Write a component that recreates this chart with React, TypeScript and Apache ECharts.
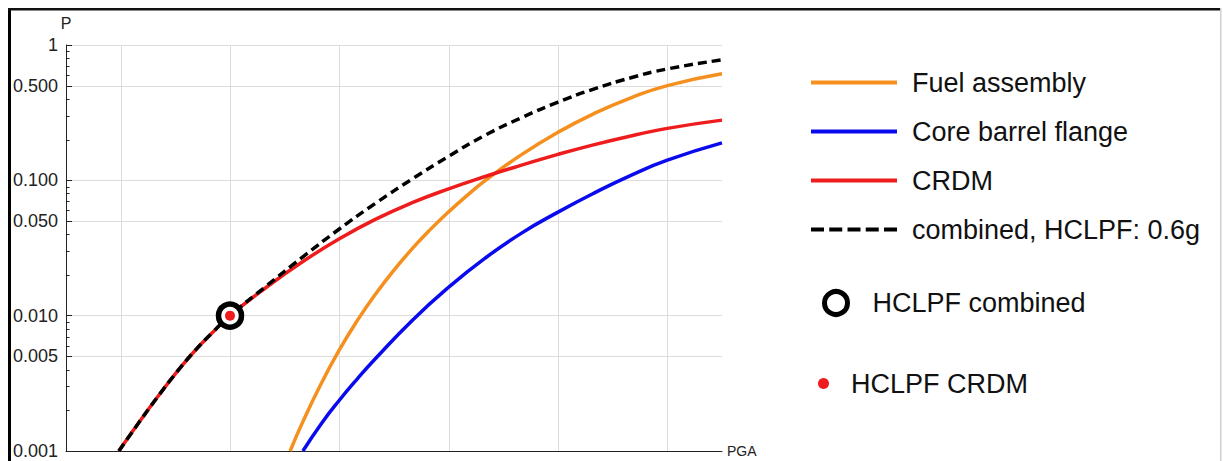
import React, { useEffect, useRef } from "react";
import * as echarts from "echarts";

// ---- data ----
const X_MIN = 0.15;
const X_MAX = 1.95;
const Y_MIN = 0.001;
const Y_MAX = 1;

const fuelPGA = [0.765, 0.8, 0.85, 0.9, 0.95, 1.0, 1.05, 1.1, 1.15, 1.2, 1.25, 1.3, 1.4, 1.5, 1.6, 1.7, 1.8, 1.95];
const fuelP = [0.001, 0.001648, 0.003141, 0.005585, 0.009268, 0.01452, 0.02173, 0.03126, 0.0434, 0.05854, 0.07716, 0.09943, 0.1549, 0.2265, 0.3126, 0.4074, 0.5012, 0.6124];

const corePGA = [0.8, 0.85, 0.9, 0.95, 1.0, 1.1, 1.2, 1.3, 1.4, 1.5, 1.6, 1.7, 1.8, 1.95];
const coreP = [0.001, 0.001585, 0.002371, 0.003428, 0.004842, 0.009226, 0.01622, 0.02661, 0.04074, 0.05821, 0.08072, 0.1089, 0.1409, 0.189];

const crdmPGA = [0.295, 0.35, 0.4, 0.45, 0.5, 0.55, 0.6, 0.7, 0.8, 0.9, 1.0, 1.1, 1.2, 1.3, 1.4, 1.5, 1.6, 1.7, 1.8, 1.95];
const crdmP = [0.001, 0.001622, 0.002483, 0.003715, 0.00537, 0.007413, 0.01, 0.01622, 0.02512, 0.03698, 0.05164, 0.06839, 0.0865, 0.1067, 0.1294, 0.1556, 0.1837, 0.2128, 0.2421, 0.2786];

const combPGA = [0.295, 0.35, 0.4, 0.45, 0.5, 0.55, 0.6, 0.7, 0.8, 0.9, 1.0, 1.1, 1.2, 1.3, 1.4, 1.5, 1.6, 1.7, 1.8, 1.95];
const combP = [0.001, 0.001622, 0.002483, 0.003715, 0.00537, 0.007413, 0.01, 0.0166, 0.0272, 0.0437, 0.0679, 0.1023, 0.1507, 0.2153, 0.2904, 0.3784, 0.4742, 0.5728, 0.6653, 0.7762];

const hclpfCombined = [0.6, 0.01];
const hclpfCrdm = [0.6, 0.01];

const seriesNames = ["Fuel assembly", "Core barrel flange", "CRDM", "combined, HCLPF: 0.6g", "HCLPF combined", "HCLPF CRDM"];

const xGridValues = [0.3, 0.6, 0.9, 1.2, 1.5, 1.8];
const yMidValues = [0.5, 0.05, 0.005];
const yMidLabels = ["0.500", "0.050", "0.005"];
const yMinorValues = [0.002, 0.003, 0.004, 0.006, 0.007, 0.008, 0.009, 0.02, 0.03, 0.04, 0.06, 0.07, 0.08, 0.09, 0.2, 0.3, 0.4, 0.6, 0.7, 0.8, 0.9];

const FONT = "'Liberation Sans', Arial, Helvetica, sans-serif";
const GRID_COLOR = "#dcdcdc";
const AXIS_COLOR = "#222";
const C_FUEL = "#f58f1e";
const C_CORE = "#0a0aee";
const C_CRDM = "#ee1c1c";

const DASH_ICON =
  "path://M0,0h13v4h-13zM18.25,0h13v4h-13zM36.5,0h13v4h-13zM54.75,0h13v4h-13zM73,0h13v4h-13z";

const zip = (xs: number[], ys: number[]) => xs.map((x, i) => [x, ys[i]]);
const crisp = (v: number) => Math.round(v) + 0.5;

export default function App() {
  const ref = useRef<HTMLDivElement>(null);

  useEffect(() => {
    document.body.style.margin = "0";
    document.body.style.overflow = "hidden";
    if (!ref.current) return;
    const chart = echarts.init(ref.current, undefined, { renderer: "svg" });

    const lineSeries = (name: string, xs: number[], ys: number[], color: string, extra: any = {}) => ({
      type: "line",
      name,
      data: zip(xs, ys),
      smooth: 0.5,
      symbol: "none",
      showSymbol: false,
      lineStyle: { color, width: 3.5, ...extra },
      itemStyle: { color },
    });

    const option: any = {
      animation: false,
      backgroundColor: "#fff",
      textStyle: { fontFamily: FONT },
      grid: { left: 66, right: 501, top: 45, bottom: 10, containLabel: false },
      xAxis: {
        type: "value",
        min: X_MIN,
        max: X_MAX,
        name: "PGA",
        nameLocation: "end",
        nameGap: 5,
        nameTextStyle: { fontSize: 14, color: AXIS_COLOR, verticalAlign: "middle", fontFamily: FONT },
        axisLine: { show: true, onZero: false, lineStyle: { color: AXIS_COLOR, width: 1 } },
        axisTick: { show: false },
        axisLabel: { show: false },
        splitLine: { show: false },
      },
      yAxis: {
        type: "log",
        logBase: 10,
        min: Y_MIN,
        max: Y_MAX,
        name: "P",
        nameLocation: "end",
        nameGap: 14,
        nameTextStyle: { fontSize: 16, color: AXIS_COLOR, align: "center", fontFamily: FONT },
        axisLine: { show: true, lineStyle: { color: AXIS_COLOR, width: 1 } },
        axisTick: { show: true, inside: true, length: 6, lineStyle: { color: AXIS_COLOR } },
        axisLabel: {
          fontSize: 18,
          color: AXIS_COLOR,
          margin: 8,
          fontFamily: FONT,
          formatter: (v: number) => (v >= 0.999 ? "1" : v.toFixed(3)),
        },
        splitLine: { show: true, lineStyle: { color: GRID_COLOR, width: 1 } },
      },
      legend: [
        {
          orient: "vertical",
          left: 811,
          top: 69,
          padding: 0,
          itemWidth: 86,
          itemHeight: 4,
          itemGap: 22,
          selectedMode: false,
          textStyle: { fontSize: 27, color: "#111", fontFamily: FONT, padding: [0, 0, 0, 10] },
          data: [
            { name: seriesNames[0], icon: "rect" },
            { name: seriesNames[1], icon: "rect" },
            { name: seriesNames[2], icon: "rect" },
            { name: seriesNames[3], icon: DASH_ICON },
          ],
        },
        {
          orient: "vertical",
          left: 822,
          top: 289,
          padding: 0,
          itemWidth: 23,
          itemHeight: 23,
          selectedMode: false,
          itemStyle: { color: "#fff", borderColor: "#000", borderWidth: 5 },
          textStyle: { fontSize: 27, color: "#111", fontFamily: FONT, padding: [0, 0, 0, 20] },
          data: [{ name: seriesNames[4], icon: "circle" }],
        },
        {
          orient: "vertical",
          left: 818,
          top: 370,
          padding: 0,
          itemWidth: 11,
          itemHeight: 11,
          selectedMode: false,
          itemStyle: { borderWidth: 0 },
          textStyle: { fontSize: 27, color: "#111", fontFamily: FONT, padding: [0, 0, 0, 17] },
          data: [{ name: seriesNames[5], icon: "circle" }],
        },
      ],
      graphic: [
        { type: "rect", silent: true, shape: { x: 8, y: 8, width: 3, height: 453 }, style: { fill: "#000" } },
        { type: "rect", silent: true, shape: { x: 8, y: 8, width: 1213, height: 2.5 }, style: { fill: "#111" } },
        { type: "rect", silent: true, shape: { x: 1220, y: 8, width: 1.5, height: 453 }, style: { fill: "#cfcfcf" } },
      ],
      series: [
        {
          type: "custom",
          name: "xgrid",
          silent: true,
          data: xGridValues.map((x) => [x, Y_MIN]),
          renderItem: (params: any, api: any) => {
            const x = api.value(0);
            const a = api.coord([x, Y_MIN]);
            const b = api.coord([x, Y_MAX]);
            return {
              type: "line",
              shape: { x1: crisp(a[0]), y1: a[1], x2: crisp(b[0]), y2: b[1] },
              style: { stroke: GRID_COLOR, lineWidth: 1 },
            };
          },
        },
        {
          type: "custom",
          name: "ymid",
          silent: true,
          data: yMidValues.map((v) => [X_MIN, v]),
          renderItem: (params: any, api: any) => {
            const v = api.value(1);
            const a = api.coord([X_MIN, v]);
            const b = api.coord([X_MAX, v]);
            const y = crisp(a[1]);
            return {
              type: "group",
              children: [
                { type: "line", shape: { x1: a[0], y1: y, x2: b[0], y2: y }, style: { stroke: GRID_COLOR, lineWidth: 1 } },
                { type: "line", shape: { x1: a[0], y1: y, x2: a[0] + 6, y2: y }, style: { stroke: AXIS_COLOR, lineWidth: 1 } },
                {
                  type: "text",
                  x: a[0] - 8,
                  y: a[1],
                  style: {
                    text: yMidLabels[params.dataIndex],
                    align: "right",
                    verticalAlign: "middle",
                    fontSize: 18,
                    fontFamily: FONT,
                    fill: AXIS_COLOR,
                  },
                },
              ],
            };
          },
        },
        {
          type: "custom",
          name: "yminor",
          silent: true,
          data: yMinorValues.map((v) => [X_MIN, v]),
          renderItem: (params: any, api: any) => {
            const v = api.value(1);
            const a = api.coord([X_MIN, v]);
            const y = crisp(a[1]);
            return {
              type: "line",
              shape: { x1: a[0], y1: y, x2: a[0] + 3.5, y2: y },
              style: { stroke: AXIS_COLOR, lineWidth: 1 },
            };
          },
        },
        lineSeries(seriesNames[0], fuelPGA, fuelP, C_FUEL),
        lineSeries(seriesNames[1], corePGA, coreP, C_CORE),
        lineSeries(seriesNames[2], crdmPGA, crdmP, C_CRDM),
        lineSeries(seriesNames[3], combPGA, combP, "#000", { type: [9, 5] }),
        {
          type: "scatter",
          name: seriesNames[4],
          data: [hclpfCombined],
          symbol: "circle",
          symbolSize: 23,
          itemStyle: { color: "#fff", borderColor: "#000", borderWidth: 5.5, opacity: 1 },
          z: 5,
        },
        {
          type: "scatter",
          name: seriesNames[5],
          data: [hclpfCrdm],
          symbol: "circle",
          symbolSize: 10,
          itemStyle: { color: C_CRDM, opacity: 1 },
          z: 6,
        },
      ],
    };

    chart.setOption(option);
    return () => chart.dispose();
  }, []);

  return <div ref={ref} style={{ width: 1223, height: 461 }} />;
}
